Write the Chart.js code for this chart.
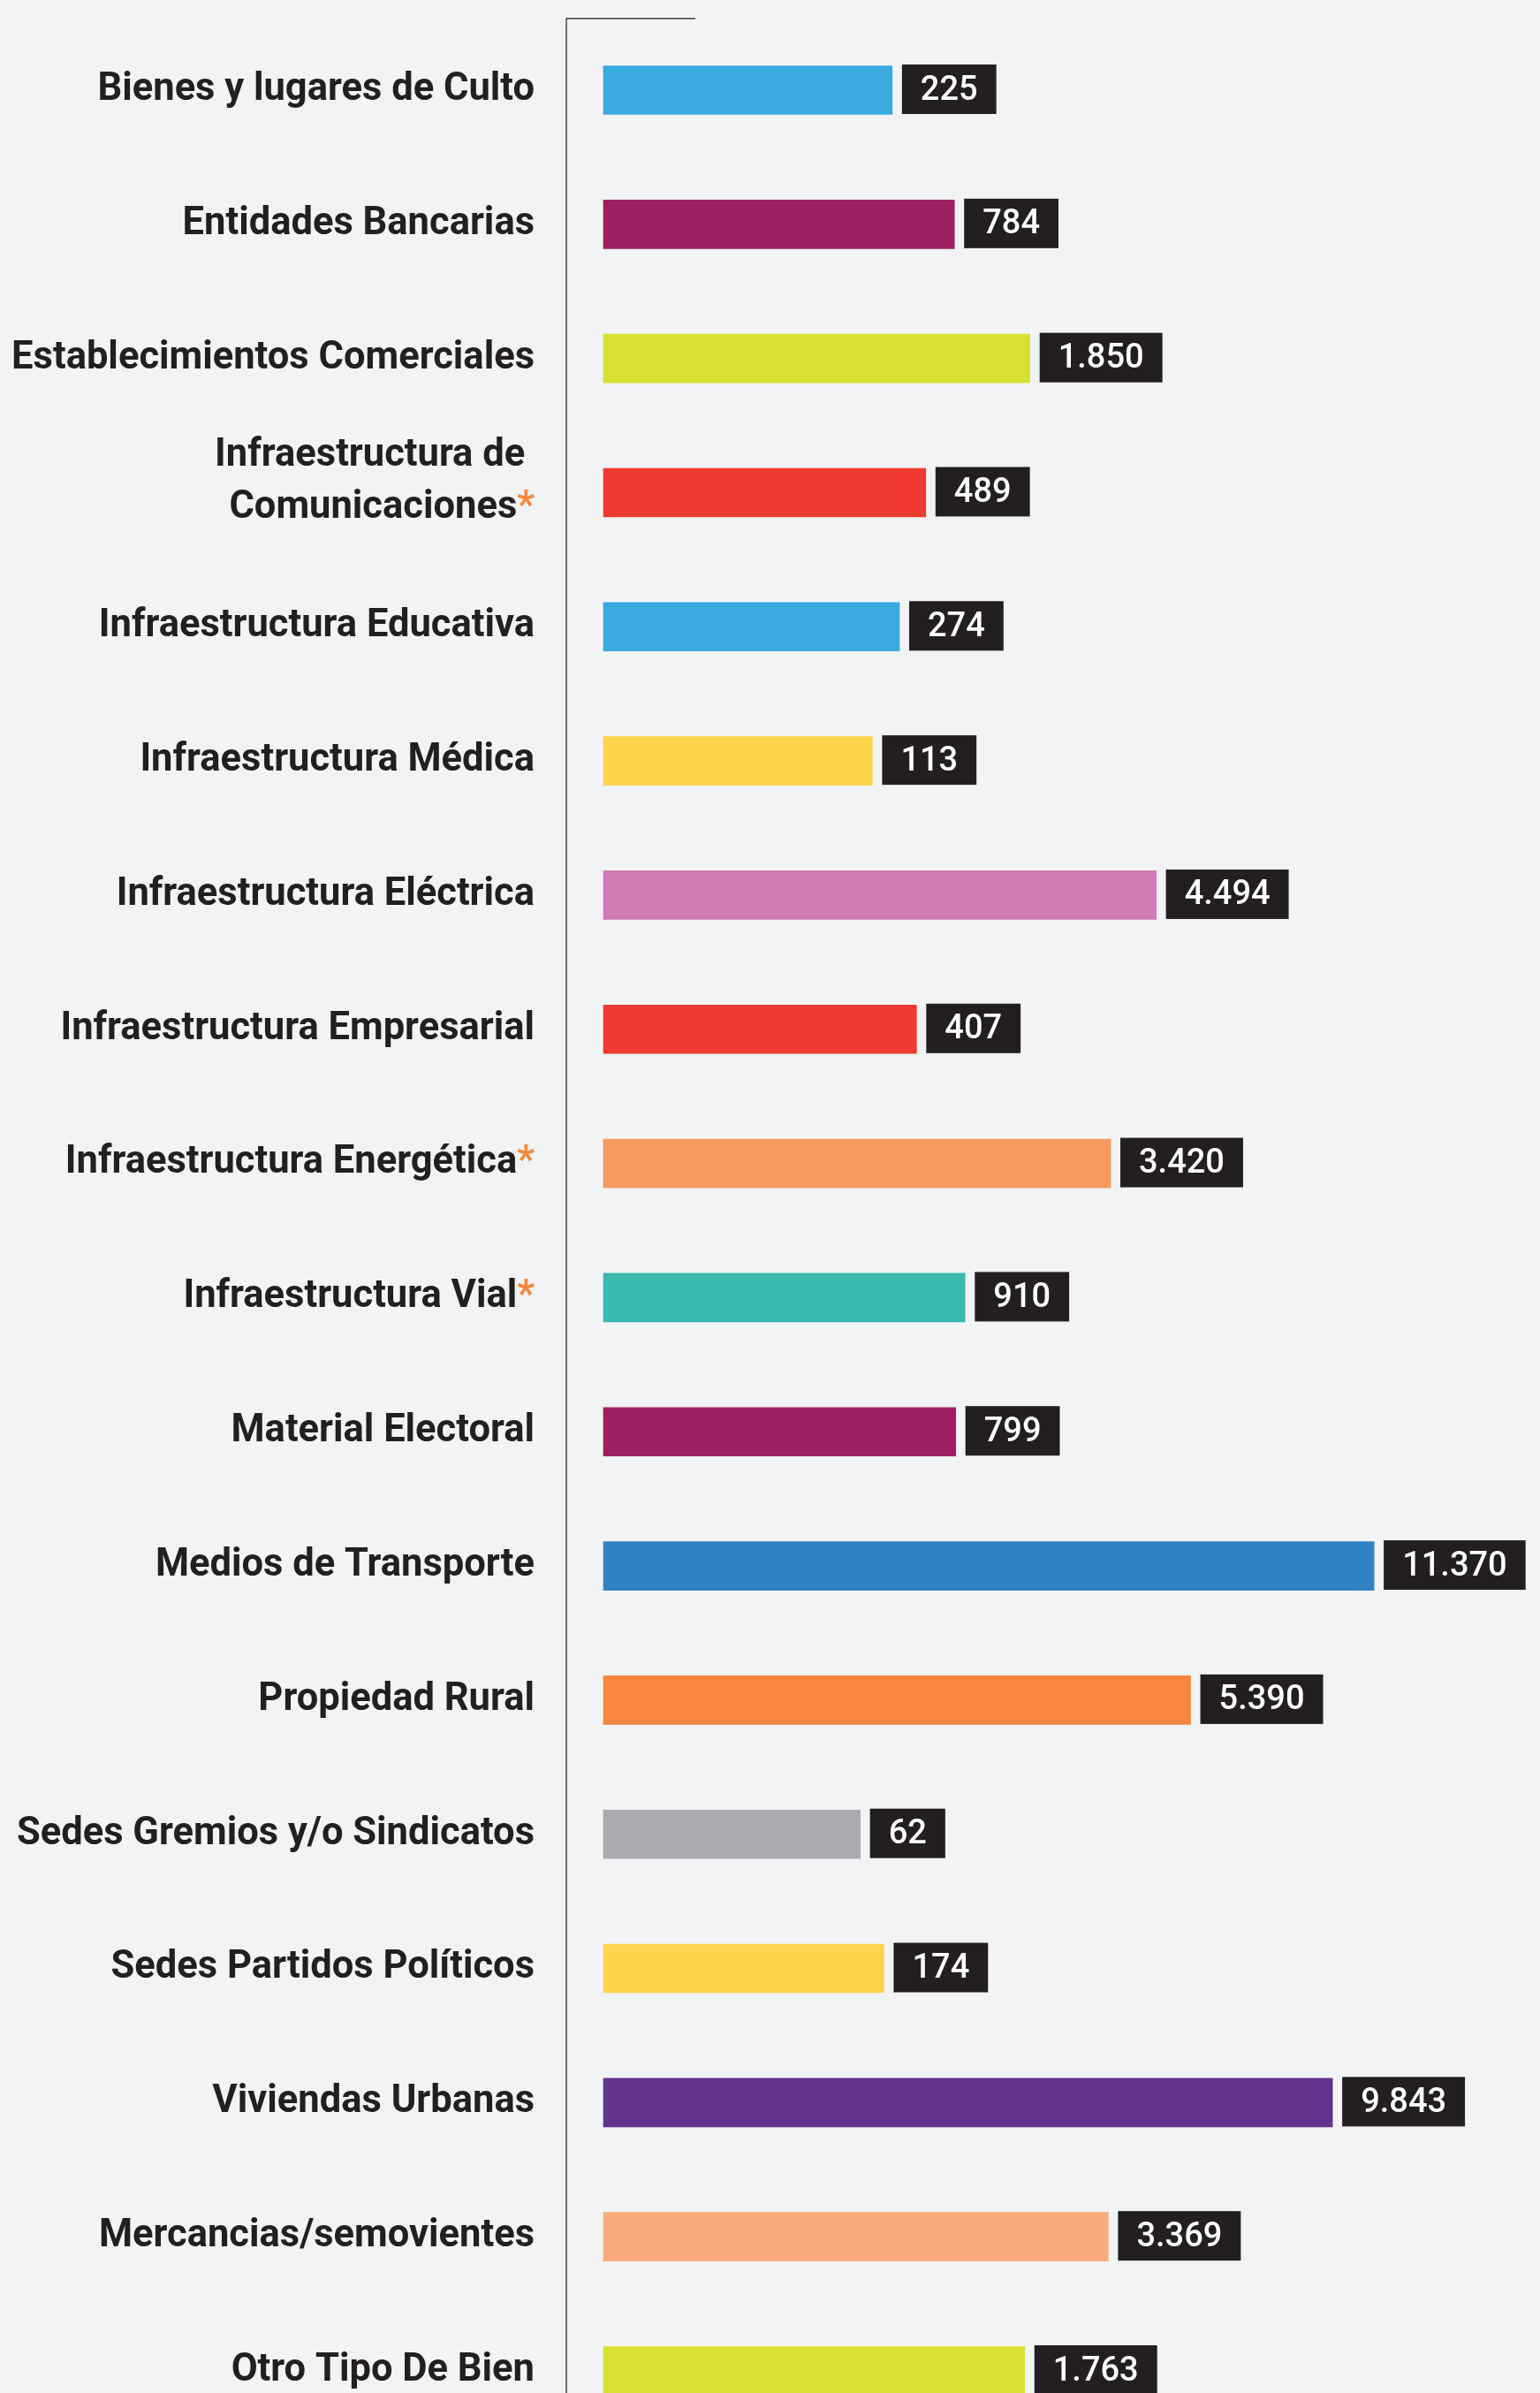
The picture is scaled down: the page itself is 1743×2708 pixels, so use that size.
<!DOCTYPE html>
<html>
<head>
<meta charset="utf-8">
<script src="https://cdn.jsdelivr.net/npm/chart.js@4.4.1/dist/chart.umd.min.js"></script>
<style>
  html, body { margin: 0; padding: 0; background: #f2f3f5; }
  #wrap { position: relative; width: 1743px; height: 2708px; }
</style>
</head>
<body>
<div id="wrap"><canvas id="chart"></canvas></div>
<script>
const categorias = [
  'Bienes y lugares de Culto',
  'Entidades Bancarias',
  'Establecimientos Comerciales',
  ['Infraestructura de ', 'Comunicaciones*'],
  'Infraestructura Educativa',
  'Infraestructura Médica',
  'Infraestructura Eléctrica',
  'Infraestructura Empresarial',
  'Infraestructura Energética*',
  'Infraestructura Vial*',
  'Material Electoral',
  'Medios de Transporte',
  'Propiedad Rural',
  'Sedes Gremios y/o Sindicatos',
  'Sedes Partidos Políticos',
  'Viviendas Urbanas',
  'Mercancias/semovientes',
  'Otro Tipo De Bien'
];
const valores = [225, 784, 1850, 489, 274, 113, 4494, 407, 3420, 910, 799, 11370, 5390, 62, 174, 9843, 3369, 1763];
const colores = [
  '#39aae0', '#9d1f61', '#d8e034', '#ee3a30', '#39aae0', '#fdd44b',
  '#d17ab3', '#ee3a30', '#f69a62', '#3cb9ae', '#9d1f61', '#3183c5',
  '#f6873c', '#a9abae', '#fdd44b', '#64338e', '#f9ac7b', '#d8e034'
];

const oscuro = '#231f20';
const naranja = '#f6873c';

// the infographic's bars are not to scale: small values get a long base,
// so a power scale with an offset follows the drawn lengths
class EscalaPotencia extends Chart.LinearScale {
  static id = 'potencia';
  static defaults = {};
  getPixelForValue(value) {
    const v = Math.max(+value || 0, 0);
    if (v === 0) return this.getPixelForDecimal(0);
    const p = this.options.exponente, c = this.options.desplazamiento;
    return this.getPixelForDecimal((c + Math.pow(v, p)) / (c + Math.pow(this.max, p)));
  }
}
Chart.register(EscalaPotencia);

const fmt = v => String(v).replace(/\B(?=(\d{3})+(?!\d))/g, '.');

const dibujo = {
  id: 'dibujo',
  afterDatasetsDraw(chart) {
    const ctx = chart.ctx;
    const y = chart.scales.y;
    const meta = chart.getDatasetMeta(0);
    ctx.save();

    // axis line with top tick
    ctx.strokeStyle = '#3a3a3a';
    ctx.lineWidth = 1.4;
    ctx.beginPath();
    ctx.moveTo(787, 21);
    ctx.lineTo(641, 21);
    ctx.lineTo(641, chart.height);
    ctx.stroke();

    // category labels
    ctx.font = '700 43.5px Roboto';
    ctx.textBaseline = 'middle';
    const xr = 605;
    categorias.forEach((cat, i) => {
      const lineas = Array.isArray(cat) ? cat : [cat];
      const yc = y.getPixelForValue(i) - (lineas.length > 1 ? 12 : 0);
      lineas.forEach((t, j) => {
        const yy = yc + (j - (lineas.length - 1) / 2) * 59;
        let texto = t, ast = '';
        if (t.endsWith('*')) { texto = t.slice(0, -1); ast = '*'; }
        const wa = ast ? ctx.measureText(ast).width : 0;
        ctx.textAlign = 'right';
        ctx.fillStyle = oscuro;
        ctx.fillText(texto, xr - wa, yy);
        if (ast) {
          ctx.textAlign = 'left';
          ctx.fillStyle = naranja;
          ctx.fillText(ast, xr - wa, yy);
        }
      });
    });

    // value boxes
    ctx.font = '500 38px Roboto';
    ctx.textAlign = 'left';
    meta.data.forEach((bar, i) => {
      const t = fmt(valores[i]);
      const w = ctx.measureText(t).width + 42;
      const h = bar.height + 1;
      const x0 = bar.x + 11;
      ctx.fillStyle = oscuro;
      ctx.fillRect(x0, bar.y - h / 2 - 1, w, h);
      ctx.fillStyle = '#ffffff';
      ctx.fillText(t, x0 + 21, bar.y + 1);
    });
    ctx.restore();
  }
};

new Chart(document.getElementById('chart'), {
  type: 'bar',
  data: {
    labels: categorias,
    datasets: [{
      data: valores,
      backgroundColor: colores,
      borderWidth: 0,
      barThickness: 55,
      clip: false
    }]
  },
  options: {
    indexAxis: 'y',
    responsive: true,
    maintainAspectRatio: false,
    animation: false,
    layout: { padding: { left: 683, right: 0, top: 102, bottom: 25 } },
    plugins: { legend: { display: false }, tooltip: { enabled: false } },
    scales: {
      x: { type: 'potencia', display: false, min: 0, max: 18440, exponente: 0.55, desplazamiento: 70.5, grid: { display: false } },
      y: { type: 'category', display: false, offset: false, grid: { display: false } }
    }
  },
  plugins: [dibujo]
});
</script>
</body>
</html>
